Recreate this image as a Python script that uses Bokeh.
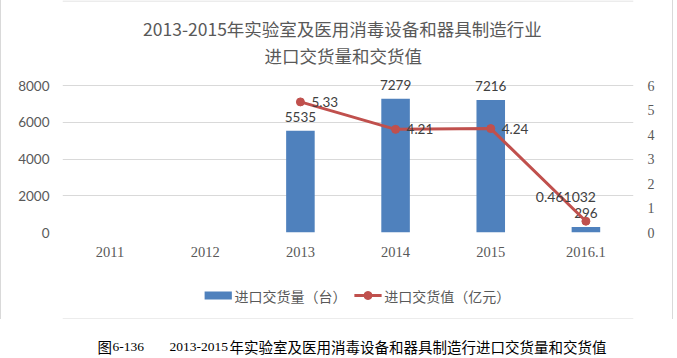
from bokeh.plotting import figure
from bokeh.layouts import column
from bokeh.models import ColumnDataSource, Range1d, LinearAxis, FixedTicker, FactorRange
from bokeh.core.properties import value
from bokeh.embed import file_html
from bokeh.resources import INLINE

# ---- data ----
categories = ["2011", "2012", "2013", "2014", "2015", "2016.1"]
volume_cats = ["2013", "2014", "2015", "2016.1"]
volume = [5535, 7279, 7216, 296]
value_cats = ["2013", "2014", "2015", "2016.1"]
trade_value = [5.33, 4.21, 4.24, 0.461032]
value_labels = ["5.33", "4.21", "4.24", "0.461032"]
left_ticks = [0, 2000, 4000, 6000, 8000]
right_ticks = [0, 1, 2, 3, 4, 5, 6]
title_lines = ["2013-2015年实验室及医用消毒设备和器具制造行业", "进口交货量和交货值"]
series_names = ["进口交货量（台）", "进口交货值（亿元）"]
caption_parts = ["图", "6-136", "2013-2015", "年实验室及医用消毒设备和器具制造行进口交货量和交货值"]

BLUE = "#4F81BD"
RED = "#C0504D"
GREY = "#595959"
DARK = "#404040"
GRID = "#D9D9D9"
CJK = "Noto Sans CJK SC"

W_OUT = 673
W = W_OUT - 2          # inner width (1px grey border each side)
SIDE = (0, 1, 0, 1)


def strip(w, h, margin):
    f = figure(width=w, height=h, output_backend="svg", toolbar_location=None,
               x_range=Range1d(0, w), y_range=Range1d(0, h), min_border=0,
               min_border_left=0, min_border_right=0, min_border_top=0, min_border_bottom=0,
               x_axis_location=None, y_axis_location=None, outline_line_color=None,
               border_fill_color="white", background_fill_color="white", margin=margin)
    f.grid.visible = False
    return f


# ---- title strip ----
H_T = 70
tf = strip(W, H_T, SIDE)
tf.line(x=[0, W], y=[H_T - 0.5, H_T - 0.5], line_color=GRID, line_width=1)
tf.text(x=[329, 330], y=[H_T - 28, H_T - 55], text=title_lines, text_align="center",
        text_baseline="middle", text_font=value(CJK), text_font_size="17.5px",
        text_color=GREY)

# ---- main chart ----
H_MAIN = 193
FL = 61                 # frame left (px)
FR = 632                # frame right (px)
FB = 162                # frame bottom (px from top of this strip)
YMAX = 8000 * FB / 147.0
RMAX = 6 * YMAX / 8000.0

p = figure(width=W, height=H_MAIN, output_backend="svg", toolbar_location=None,
           x_range=FactorRange(*categories, range_padding=0), y_range=Range1d(0, YMAX),
           min_border_left=FL, min_border_right=W - FR, min_border_top=0,
           min_border_bottom=H_MAIN - FB, outline_line_color=None,
           background_fill_color="white", border_fill_color="white", margin=SIDE)
p.extra_y_ranges = {"right": Range1d(0, RMAX)}

bar_src = ColumnDataSource(dict(x=volume_cats, top=volume, lab=[str(v) for v in volume]))
p.vbar(x="x", top="top", width=0.3, source=bar_src, fill_color=BLUE, line_color=None)
p.text(x="x", y="top", text="lab", source=bar_src, text_align="center",
       text_baseline="middle", y_offset=-14, text_font=value("Lato"),
       text_font_size="13.5px", text_color=DARK)

val_src = ColumnDataSource(dict(x=value_cats, y=trade_value, lab=value_labels))
p.line(x="x", y="y", source=val_src, line_color=RED, line_width=3, y_range_name="right")
p.scatter(x="x", y="y", source=val_src, size=8, fill_color=RED, line_color=RED,
          y_range_name="right")
first = ColumnDataSource(dict(x=value_cats[:3], y=trade_value[:3], lab=value_labels[:3]))
p.text(x="x", y="y", text="lab", source=first, y_range_name="right", text_align="left",
       text_baseline="middle", x_offset=11, y_offset=0, text_font=value("Lato"),
       text_font_size="13.5px", text_color=DARK)
last = ColumnDataSource(dict(x=value_cats[3:], y=trade_value[3:], lab=value_labels[3:]))
p.text(x="x", y="y", text="lab", source=last, y_range_name="right", text_align="center",
       text_baseline="middle", x_offset=-20, y_offset=-24, text_font=value("Lato"),
       text_font_size="14px", text_color=DARK)

p.xaxis.axis_line_color = None
p.xaxis.major_tick_line_color = None
p.xaxis.major_tick_out = 0
p.xaxis.major_tick_in = 0
p.xaxis.minor_tick_line_color = None
p.xaxis.major_label_standoff = 14
p.xaxis.major_label_text_font = "Liberation Serif"
p.xaxis.major_label_text_font_size = "14.5px"
p.xaxis.major_label_text_color = GREY
p.xgrid.grid_line_color = None

p.yaxis.ticker = FixedTicker(ticks=left_ticks)
p.yaxis.axis_line_color = None
p.yaxis.major_tick_line_color = None
p.yaxis.major_tick_out = 0
p.yaxis.major_tick_in = 0
p.yaxis.minor_tick_line_color = None
p.yaxis.major_label_standoff = 13
p.yaxis.major_label_text_font = "Lato"
p.yaxis.major_label_text_font_size = "13.5px"
p.yaxis.major_label_text_color = GREY
p.ygrid.ticker = FixedTicker(ticks=left_ticks)
p.ygrid.grid_line_color = GRID

raxis = LinearAxis(y_range_name="right", ticker=FixedTicker(ticks=right_ticks),
                   axis_line_color=None, major_tick_line_color=None,
                   major_tick_out=0, major_tick_in=0,
                   minor_tick_line_color=None, major_label_standoff=14,
                   major_label_text_font="Liberation Serif",
                   major_label_text_font_size="14px", major_label_text_color=GREY)
p.add_layout(raxis, "right")

# ---- legend strip ----
H_L = 56
lf = strip(W, H_L, SIDE)
lf.line(x=[0, W], y=[0.5, 0.5], line_color=GRID, line_width=1)
ly = H_L - 32
lf.quad(left=[167], right=[199], bottom=[ly - 4], top=[ly + 4], fill_color=BLUE,
        line_color=None)
lf.line(x=[343, 375], y=[ly, ly], line_color=RED, line_width=3)
lf.scatter(x=[359], y=[ly], size=8, fill_color=RED, line_color=RED)
lf.text(x=[202, 378], y=[ly, ly], text=series_names, text_align="left",
        text_baseline="middle", text_font=value(CJK), text_font_size="14px",
        text_color=GREY)

side_bg = ("linear-gradient(to right, #D9D9D9 0px, #D9D9D9 1px, #FFFFFF 1px, "
           "#FFFFFF calc(100% - 1px), #D9D9D9 calc(100% - 1px), #D9D9D9 100%)")
boxed = column(tf, p, lf, spacing=0, styles={"background": side_bg})

# ---- caption strip ----
H_C = 37
c = strip(W_OUT, H_C, 0)
cap_x = [97, 112, 169, 229]
cap_font = [CJK, "Liberation Serif", "Liberation Serif", CJK]
cap_size = ["14.5px", "13.5px", "13.5px", "14.5px"]
for txt, xx, fnt, fs in zip(caption_parts, cap_x, cap_font, cap_size):
    c.text(x=[xx], y=[H_C - 27], text=[txt], text_align="left", text_baseline="middle",
           text_font=value(fnt), text_font_size=fs, text_color="black")

layout = column(boxed, c, spacing=0)
open("out.html", "w").write(file_html(layout, INLINE))
